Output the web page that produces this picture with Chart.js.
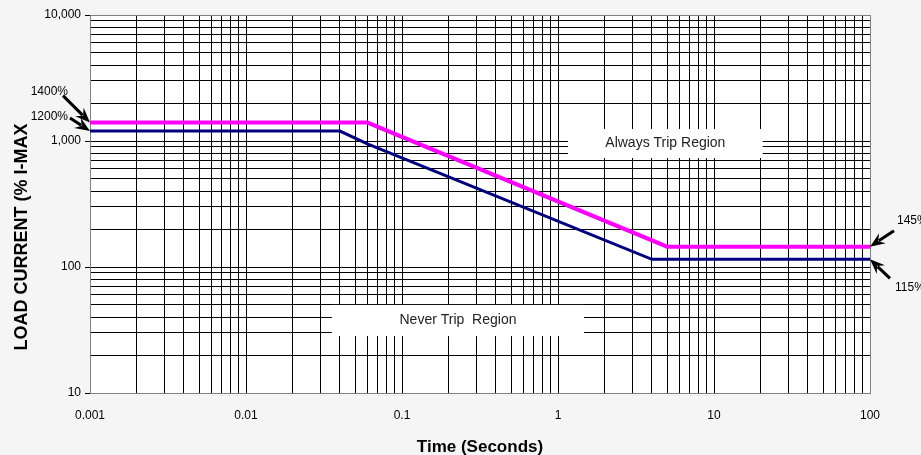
<!DOCTYPE html>
<html>
<head>
<meta charset="utf-8">
<script src="https://cdn.jsdelivr.net/npm/chart.js@4.4.1/dist/chart.umd.min.js"></script>
<style>
  html, body { margin: 0; padding: 0; background: #f5f5f5; }
  #wrap { width: 921px; height: 455px; position: relative; }
</style>
</head>
<body>
<div id="wrap"><canvas id="chart"></canvas></div>
<script>
// --- data ---
const highTimes = [0.001, 0.06, 5, 100];        // 1400% / 145% curve (seconds)
const highCurrents = [1400, 1400, 145, 145];
const lowTimes = [0.001, 0.04, 0.06, 4, 100];   // 1200% / 115% curve
const lowCurrents = [1200, 1200, 950, 115, 115];

const xTickValues = [0.001, 0.01, 0.1, 1, 10, 100];
const xTickLabels = ['0.001', '0.01', '0.1', '1', '10', '100'];
const yTickValues = [10, 100, 1000, 10000];
const yTickLabels = ['10', '100', '1,000', '10,000'];

const FONT = 'Liberation Sans, Arial, sans-serif';

// minor ticks 1..9 in every decade, so every grid line gets drawn
function logTicks(decades) {
  const out = [];
  for (let i = 0; i < decades.length - 1; i++) {
    for (let m = 1; m <= 9; m++) out.push({ value: Number((m * decades[i]).toPrecision(6)) });
  }
  out.push({ value: decades[decades.length - 1] });
  return out;
}
function labelFor(value, values, labels) {
  const i = values.findIndex(v => Math.abs(value / v - 1) < 1e-6);
  return i < 0 ? '' : labels[i];
}
function isDecade(value, values) {
  return values.some(v => Math.abs(value / v - 1) < 1e-6);
}

// region labels (boxes in data units) and arrow notes
const regions = [
  { text: 'Always Trip Region', x0: 1.16, x1: 20.5, y0: 733, y1: 1245 },
  { text: 'Never Trip  Region', x0: 0.0355, x1: 1.47, y0: 28.3, y1: 50 }
];
const notes = [
  { text: '1400%', x: 0.001, y: 1400, tail: [-27, -27], label: [-22, -31], align: 'right' },
  { text: '1200%', x: 0.001, y: 1200, tail: [-20, -13], label: [-22, -14], align: 'right' },
  { text: '145%', x: 100, y: 145, tail: [24, -16], label: [27, -26], align: 'left' },
  { text: '115%', x: 100, y: 115, tail: [20, 19], label: [25, 28], align: 'left' }
];

function drawArrow(ctx, x1, y1, x2, y2) {
  const a = Math.atan2(y2 - y1, x2 - x1);
  const c = Math.cos(a), s = Math.sin(a);
  const head = 15, half = 6;
  ctx.beginPath();
  ctx.moveTo(x1, y1);
  ctx.lineTo(x2 - c * head * 0.7, y2 - s * head * 0.7);
  ctx.lineWidth = 3;
  ctx.stroke();
  ctx.beginPath();
  ctx.moveTo(x2, y2);
  ctx.lineTo(x2 - c * head + s * half, y2 - s * head - c * half);
  ctx.lineTo(x2 - c * head * 0.65, y2 - s * head * 0.65);
  ctx.lineTo(x2 - c * head - s * half, y2 - s * head + c * half);
  ctx.closePath();
  ctx.fill();
}

const decorPlugin = {
  id: 'decor',
  beforeDraw(chart) {
    const { ctx, chartArea: a } = chart;
    ctx.save();
    ctx.fillStyle = '#ffffff';
    ctx.fillRect(a.left, a.top, a.right - a.left, a.bottom - a.top);
    ctx.restore();
  },
  beforeDatasetsDraw(chart) {
    const { ctx, chartArea: a, scales: { x, y } } = chart;
    ctx.save();
    regions.forEach(r => {
      const l = x.getPixelForValue(r.x0), rr = x.getPixelForValue(r.x1);
      const t = y.getPixelForValue(r.y1), b = y.getPixelForValue(r.y0);
      ctx.fillStyle = '#ffffff';
      ctx.fillRect(l, t, rr - l, b - t);
      ctx.fillStyle = '#222';
      ctx.font = '14px ' + FONT;
      ctx.textAlign = 'center';
      ctx.textBaseline = 'middle';
      ctx.fillText(r.text, (l + rr) / 2, (t + b) / 2);
    });
    // plot frame
    ctx.strokeStyle = '#808080';
    ctx.lineWidth = 1;
    ctx.strokeRect(Math.round(a.left) + 0.5, Math.round(a.top) + 0.5,
      Math.round(a.right - a.left), Math.round(a.bottom - a.top));
    ctx.restore();
  },
  afterDatasetsDraw(chart) {
    const { ctx, chartArea: a, scales: { x, y } } = chart;
    ctx.save();
    ctx.fillStyle = '#000';
    ctx.strokeStyle = '#000';
    notes.forEach(n => {
      const px = x.getPixelForValue(n.x), py = y.getPixelForValue(n.y);
      drawArrow(ctx, px + n.tail[0], py + n.tail[1], px, py);
      ctx.font = '12px ' + FONT;
      ctx.textAlign = n.align;
      ctx.textBaseline = 'middle';
      ctx.fillText(n.text, px + n.label[0], py + n.label[1]);
    });
    // axis titles
    ctx.font = 'bold 17px ' + FONT;
    ctx.textAlign = 'center';
    ctx.textBaseline = 'alphabetic';
    ctx.fillText('Time (Seconds)', (a.left + a.right) / 2, a.bottom + 59);
    ctx.translate(27, a.top + 222);
    ctx.rotate(-Math.PI / 2);
    ctx.font = 'bold 18px ' + FONT;
    ctx.fillText('LOAD CURRENT (% I-MAX', 0, 0);
    ctx.restore();
  }
};

const toPoints = (xs, ys) => xs.map((v, i) => ({ x: v, y: ys[i] }));

new Chart(document.getElementById('chart'), {
  type: 'scatter',
  data: {
    datasets: [
      {
        label: '1400%',
        data: toPoints(highTimes, highCurrents),
        showLine: true,
        borderColor: '#ff00ff',
        borderWidth: 4,
        pointRadius: 0,
        tension: 0,
        clip: false
      },
      {
        label: '1200%',
        data: toPoints(lowTimes, lowCurrents),
        showLine: true,
        borderColor: '#000080',
        borderWidth: 3,
        pointRadius: 0,
        tension: 0,
        clip: false
      }
    ]
  },
  options: {
    responsive: true,
    maintainAspectRatio: false,
    animation: false,
    layout: { padding: { top: 15, right: 51, left: 0, bottom: 0 } },
    plugins: { legend: { display: false }, tooltip: { enabled: false } },
    scales: {
      x: {
        type: 'logarithmic',
        min: 0.001,
        max: 100,
        afterBuildTicks: s => { s.ticks = logTicks(xTickValues); },
        afterFit: s => { s.height = 62; },
        border: { display: false },
        grid: { color: '#000', lineWidth: 1, drawTicks: false },
        ticks: {
          autoSkip: false,
          maxRotation: 0,
          padding: 15,
          color: '#000',
          font: { family: FONT, size: 12 },
          callback: v => labelFor(v, xTickValues, xTickLabels)
        }
      },
      y: {
        type: 'logarithmic',
        min: 10,
        max: 10000,
        afterBuildTicks: s => { s.ticks = logTicks(yTickValues); },
        afterFit: s => { s.width = 90; },
        border: { display: false },
        grid: {
          color: '#000',
          lineWidth: 1,
          tickLength: 5,
          tickColor: c => (c.tick && isDecade(c.tick.value, yTickValues)) ? '#000' : 'rgba(0,0,0,0)'
        },
        ticks: {
          autoSkip: false,
          padding: 4,
          color: '#000',
          font: { family: FONT, size: 12 },
          callback: v => labelFor(v, yTickValues, yTickLabels)
        }
      }
    }
  },
  plugins: [decorPlugin]
});
</script>
</body>
</html>
